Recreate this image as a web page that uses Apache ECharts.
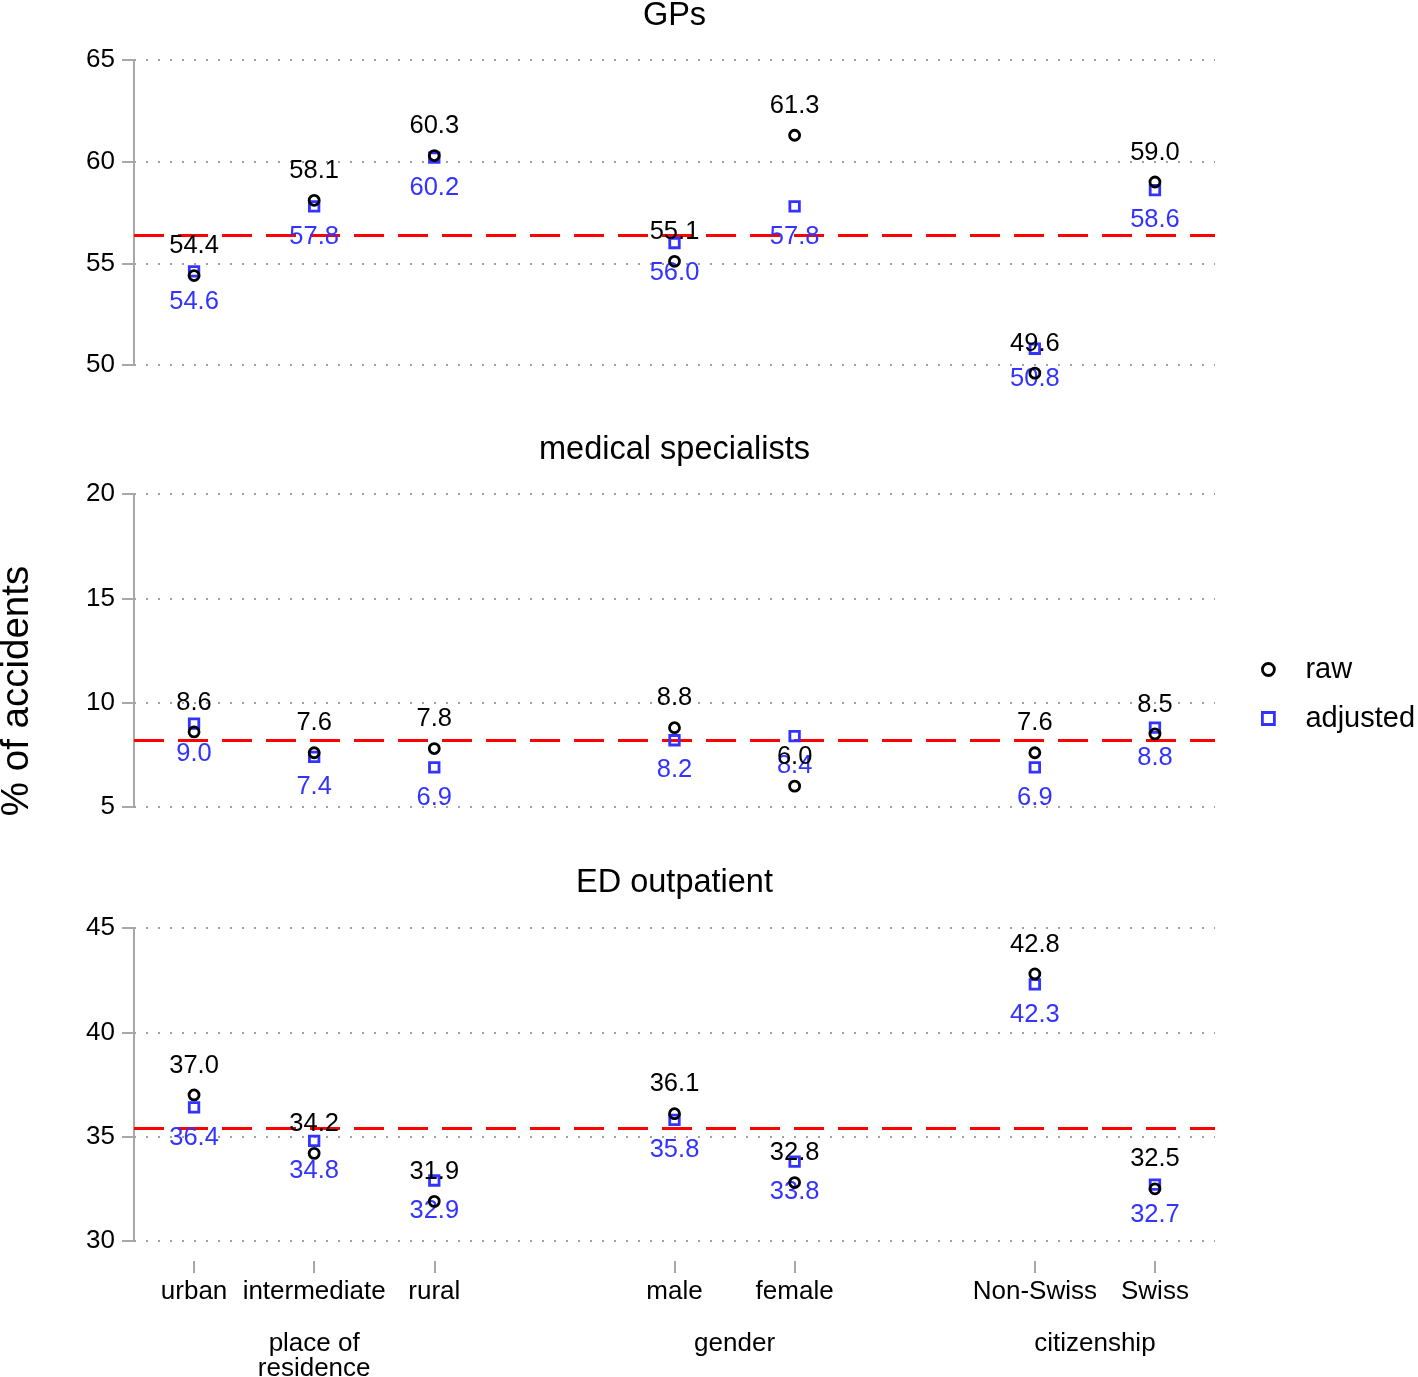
<!DOCTYPE html>
<html>
<head>
<meta charset="utf-8">
<script src="https://cdn.jsdelivr.net/npm/echarts@6/dist/echarts.min.js"></script>
<style>
html,body{margin:0;padding:0;background:#fff;}
#chart{width:1418px;height:1377px;}
</style>
</head>
<body>
<div id="chart"></div>
<script>
// ---- data ----
const categories = ['urban', 'intermediate', 'rural', 'male', 'female', 'Non-Swiss', 'Swiss'];
const groups = ['place of\nresidence', 'gender', 'citizenship'];
const groupOf = [0, 0, 0, 1, 1, 2, 2];
const panels = ['GPs', 'medical specialists', 'ED outpatient'];

const gpRaw = [54.4, 58.1, 60.3, 55.1, 61.3, 49.6, 59.0];
const gpAdj = [54.6, 57.8, 60.2, 56.0, 57.8, 50.8, 58.6];
const msRaw = [8.6, 7.6, 7.8, 8.8, 6.0, 7.6, 8.5];
const msAdj = [9.0, 7.4, 6.9, 8.2, 8.4, 6.9, 8.8];
const edRaw = [37.0, 34.2, 31.9, 36.1, 32.8, 42.8, 32.5];
const edAdj = [36.4, 34.8, 32.9, 35.8, 33.8, 42.3, 32.7];

const refLines = [56.4, 8.2, 35.4];
const yMin = [50, 5, 30];
const yMax = [65, 20, 45];
const yStep = 5;

// ---- build slots (spacer between groups) ----
const slotCats = [];
const slotOfCat = [];
categories.forEach((c, i) => {
  if (i > 0 && groupOf[i] !== groupOf[i - 1]) slotCats.push('');
  slotOfCat.push(slotCats.length);
  slotCats.push(c);
});
const groupCenters = groups.map((g, gi) => {
  const s = slotOfCat.filter((_, i) => groupOf[i] === gi);
  return (Math.min(...s) + Math.max(...s)) / 2;
});
function toSlots(vals) {
  const arr = slotCats.map(() => '-');
  vals.forEach((v, i) => { arr[slotOfCat[i]] = v; });
  return arr;
}

const FONT = 'Liberation Sans, Arial, Helvetica, sans-serif';
const BLUE = '#3333ff';
const GRAY = '#a8a8a8';

const grids = [
  { left: 134, width: 1081, top: 60, height: 305, outerBoundsMode: 'none', containLabel: false },
  { left: 134, width: 1081, top: 494, height: 313, outerBoundsMode: 'none', containLabel: false },
  { left: 134, width: 1081, top: 928, height: 313, outerBoundsMode: 'none', containLabel: false }
];
const titleTops = [0, 434, 867];

const rawSets = [gpRaw, msRaw, edRaw];
const adjSets = [gpAdj, msAdj, edAdj];

const xAxes = grids.map((g, k) => ({
  type: 'category',
  gridIndex: k,
  position: 'bottom',
  data: slotCats,
  boundaryGap: true,
  offset: 20,
  axisLine: { show: false },
  axisTick: {
    show: k === 2, alignWithLabel: true, length: 12,
    interval: (i, v) => v !== '',
    lineStyle: { color: GRAY, width: 2 }
  },
  axisLabel: {
    show: k === 2, interval: 0, margin: 18,
    color: '#000', fontSize: 26, fontFamily: FONT
  },
  splitLine: { show: false }
}));
xAxes.push({
  type: 'value',
  gridIndex: 2,
  position: 'bottom',
  min: -0.5,
  max: slotCats.length - 0.5,
  offset: 80,
  axisLine: { show: false, onZero: false },
  axisTick: { show: false },
  splitLine: { show: false },
  axisLabel: {
    show: true,
    customValues: groupCenters,
    margin: 10,
    verticalAlign: 'top',
    lineHeight: 25,
    color: '#000', fontSize: 26, fontFamily: FONT,
    formatter: v => {
      const gi = groupCenters.indexOf(v);
      return gi >= 0 ? groups[gi] : '';
    }
  }
});

const yAxes = grids.map((g, k) => ({
  type: 'value',
  gridIndex: k,
  position: 'left',
  min: yMin[k],
  max: yMax[k],
  interval: yStep,
  axisLine: { show: true, onZero: false, lineStyle: { color: GRAY, width: 2 } },
  axisTick: { show: true, length: 12, lineStyle: { color: GRAY, width: 2 } },
  axisLabel: { color: '#000', fontSize: 26, fontFamily: FONT, margin: 19 },
  splitLine: { show: true, lineStyle: { color: '#a0a0a0', width: 2, type: [2, 10] } }
}));

const series = [];
grids.forEach((g, k) => {
  series.push({
    name: 'raw',
    type: 'scatter',
    xAxisIndex: k, yAxisIndex: k,
    data: toSlots(rawSets[k]),
    symbol: 'circle',
    symbolSize: 10,
    clip: false,
    z: 3,
    itemStyle: { color: 'rgba(255,255,255,0)', borderColor: '#000', borderWidth: 2.8, opacity: 1 },
    label: {
      show: true, position: 'top', distance: 10,
      color: '#000', fontSize: 25.5, fontFamily: FONT,
      formatter: p => Number(p.value).toFixed(1)
    },
    emphasis: { disabled: true },
    markLine: {
      silent: true,
      symbol: ['none', 'none'],
      label: { show: false },
      z: 1,
      lineStyle: { color: '#ff0000', width: 3, type: [30, 14], opacity: 1 },
      data: [{ yAxis: refLines[k] }]
    }
  });
  series.push({
    name: 'adjusted',
    type: 'scatter',
    xAxisIndex: k, yAxisIndex: k,
    data: toSlots(adjSets[k]),
    symbol: 'rect',
    symbolSize: 9.5,
    clip: false,
    z: 2,
    itemStyle: { color: 'rgba(255,255,255,0)', borderColor: BLUE, borderWidth: 2.8, opacity: 1 },
    label: {
      show: true, position: 'bottom', distance: 11,
      color: BLUE, fontSize: 25.5, fontFamily: FONT,
      formatter: p => Number(p.value).toFixed(1)
    },
    emphasis: { disabled: true }
  });
});

const option = {
  backgroundColor: '#fff',
  animation: false,
  title: panels.map((t, k) => ({
    text: t,
    left: grids[k].left + grids[k].width / 2,
    textAlign: 'center',
    top: titleTops[k],
    padding: 0,
    textStyle: { color: '#000', fontSize: 32.5, fontWeight: 'normal', fontFamily: FONT }
  })),
  grid: grids,
  xAxis: xAxes,
  yAxis: yAxes,
  legend: {
    orient: 'vertical',
    left: 1256,
    top: 650,
    itemWidth: 12,
    itemHeight: 12,
    itemGap: 20,
    textStyle: { color: '#000', fontSize: 29, fontFamily: FONT, padding: [0, 0, 0, 26] },
    data: [
      { name: 'raw', icon: 'circle', itemStyle: { color: '#fff', borderColor: '#000', borderWidth: 2.8 } },
      { name: 'adjusted', icon: 'rect', itemStyle: { color: '#fff', borderColor: BLUE, borderWidth: 2.8 } }
    ],
    selectedMode: false
  },
  graphic: [{
    type: 'text',
    x: 17,
    y: 691,
    rotation: Math.PI / 2,
    style: {
      text: '% of accidents',
      fill: '#000',
      font: '38.5px ' + FONT,
      textAlign: 'center',
      textVerticalAlign: 'middle'
    }
  }],
  series: series
};

const chart = echarts.init(document.getElementById('chart'), null, { renderer: 'canvas' });
chart.setOption(option);
</script>
</body>
</html>
